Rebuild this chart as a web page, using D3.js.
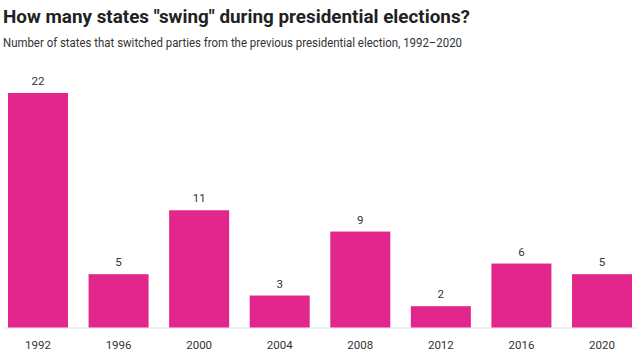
<!DOCTYPE html>
<html><head><meta charset="utf-8">
<script src="https://cdn.jsdelivr.net/npm/d3@7"></script>
<style>
html,body{margin:0;padding:0;background:#fff;}
svg{display:block;}
</style></head>
<body>
<svg id="chart" width="642" height="358"></svg>
<script>
const years = ["1992","1996","2000","2004","2008","2012","2016","2020"];
const swingStates = [22, 5, 11, 3, 9, 2, 6, 5];
const titleText = 'How many states "swing" during presidential elections?';
const subtitleText = 'Number of states that switched parties from the previous presidential election, 1992\u20132020';

const svg = d3.select("#chart");
const font = "'Source Sans Pro','Roboto','Open Sans',sans-serif";

svg.append("text").attr("x", 3).attr("y", 23)
  .attr("font-family", font).attr("font-weight", 700).attr("font-size", 18)
  .attr("textLength", 467).attr("lengthAdjust", "spacingAndGlyphs")
  .attr("fill", "#222").text(titleText);
svg.append("text").attr("x", 3).attr("y", 47)
  .attr("font-family", font).attr("font-size", 13.5)
  .attr("textLength", 459).attr("lengthAdjust", "spacingAndGlyphs")
  .attr("fill", "#333").text(subtitleText);

const x = d3.scaleBand().domain(years).range([8, 632]).paddingInner(0.255).paddingOuter(0);
const y = d3.scaleLinear().domain([0, 22]).range([327.5, 93]);

svg.append("line").attr("x1", 5).attr("x2", 637).attr("y1", 328).attr("y2", 328)
  .attr("stroke", "#dde0e6").attr("stroke-width", 1);

svg.selectAll("rect.bar").data(years).join("rect").attr("class", "bar")
  .attr("x", d => x(d)).attr("width", x.bandwidth())
  .attr("y", (d, i) => y(swingStates[i]))
  .attr("height", (d, i) => y(0) - y(swingStates[i]))
  .attr("fill", "#e3268c");

svg.selectAll("text.val").data(years).join("text").attr("class", "val")
  .attr("x", d => x(d) + x.bandwidth() / 2)
  .attr("y", (d, i) => y(swingStates[i]) - 8)
  .attr("text-anchor", "middle").attr("font-family", font).attr("font-size", 11.5)
  .attr("fill", "#333").text((d, i) => swingStates[i]);

const axis = d3.axisBottom(x).tickSize(0).tickPadding(8);
const g = svg.append("g").attr("transform", "translate(0,333)").call(axis);
g.select(".domain").remove();
g.selectAll("text").attr("font-family", font).attr("font-size", 11.5).attr("fill", "#333");
</script>
</body></html>
